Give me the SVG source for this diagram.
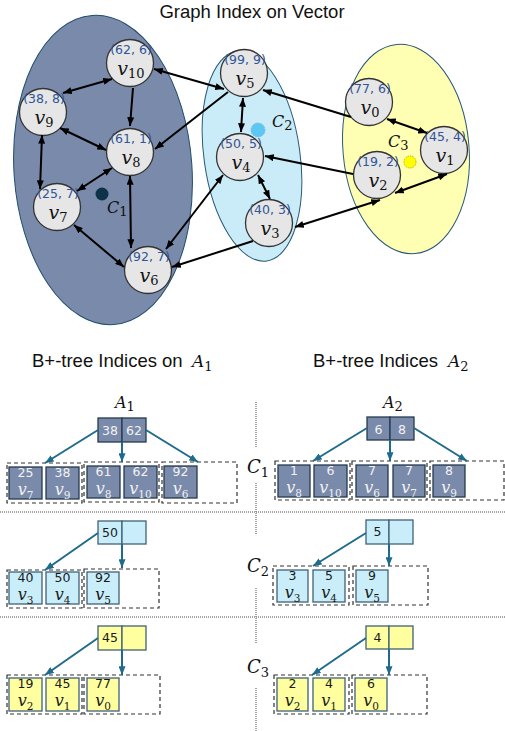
<svg xmlns="http://www.w3.org/2000/svg" width="505" height="731" viewBox="0 0 505 731">
<style>
.t{font-family:"Liberation Sans",Arial,sans-serif;fill:#111}
.co{font-family:"DejaVu Sans",Verdana,sans-serif;font-size:12.5px;fill:#2f5597;text-anchor:middle}
.m{font-family:"DejaVu Serif",serif;font-style:italic;fill:#111}
.vl{font-family:"DejaVu Serif",serif;font-style:italic;font-size:19px;text-anchor:middle;fill:#111}
.sb{font-style:normal;font-size:13px}
.node circle{fill:#e6e6e6;stroke:#333;stroke-width:1.3}
.e{stroke:#000;stroke-width:2;fill:none}
.tr{stroke:#1f6b8c;stroke-width:2;fill:none}
.grp{fill:none;stroke:#333;stroke-dasharray:4 3;stroke-width:1.2}
.div{stroke:#888;stroke-width:1.5;stroke-dasharray:1 1;fill:none}
.dk rect{fill:#7a8aab;stroke:#26394f;stroke-width:1.3}
.lb rect{fill:#c9eefa;stroke:#3f6179;stroke-width:1.3}
.yl rect{fill:#ffffa0;stroke:#3f6179;stroke-width:1.3}
.num{font-family:"DejaVu Sans",Verdana,sans-serif;font-size:12.5px;text-anchor:middle}
.lv{font-family:"DejaVu Serif",serif;font-style:italic;font-size:16px;text-anchor:middle}
.ls{font-style:normal;font-size:10.5px}
.dk text{fill:#f2f2f2}
.lb text,.yl text{fill:#1a1a1a}
</style>
<defs>
<marker id="ah" viewBox="0 0 10 8" refX="10" refY="4" markerWidth="9" markerHeight="7" markerUnits="userSpaceOnUse" orient="auto-start-reverse"><path d="M0,0 L10,4 L0,8 z" fill="#000"/></marker>
<marker id="at" viewBox="0 0 10 8" refX="10" refY="4" markerWidth="9" markerHeight="7" markerUnits="userSpaceOnUse" orient="auto"><path d="M0,0 L10,4 L0,8 z" fill="#1f6b8c"/></marker>
</defs>
<rect width="505" height="731" fill="#fff"/>
<text class="t" x="252" y="18" font-size="18.5" text-anchor="middle">Graph Index on Vector</text>

<g id="clusters">
<ellipse id="C1area" cx="103" cy="170" rx="89" ry="155" transform="rotate(-4 103 170)" fill="#7a8aab" stroke="#1f4e6e" stroke-width="1"/>
<ellipse id="C2area" cx="252" cy="156" rx="48" ry="106" transform="rotate(-8 252 156)" fill="#c9ecf8" stroke="#2a5a78" stroke-width="1"/>
<ellipse id="C3area" cx="406" cy="149" rx="63" ry="105" transform="rotate(-5 406 149)" fill="#ffffb3" stroke="#2a5a78" stroke-width="1"/>
</g>

<g id="centroids">
<circle cx="102" cy="194" r="6.5" fill="#0e3349"/>
<text class="m" x="107" y="213" font-size="16">C<tspan class="sb" font-size="11" dy="3">1</tspan></text>
<circle cx="258" cy="130" r="7" fill="#5bc7f2" stroke="#8fb4d8" stroke-width="1" stroke-dasharray="1.5 1"/>
<text class="m" x="272" y="127" font-size="16">C<tspan class="sb" font-size="11" dy="3">2</tspan></text>
<circle cx="410" cy="162" r="6" fill="#ffff00" stroke="#c8b000" stroke-width="1" stroke-dasharray="1.5 1"/>
<text class="m" x="388" y="147" font-size="16">C<tspan class="sb" font-size="11" dy="3">3</tspan></text>
</g>

<g id="v10" class="node"><circle cx="130" cy="63" r="23.5"/><text class="co" x="131" y="54">(62, 6)</text><text class="vl" x="131" y="75">v<tspan class="sb" dy="3">10</tspan></text></g>
<g id="v9" class="node"><circle cx="43" cy="112" r="23.5"/><text class="co" x="44" y="103">(38, 8)</text><text class="vl" x="44" y="124">v<tspan class="sb" dy="3">9</tspan></text></g>
<g id="v8" class="node"><circle cx="130" cy="152" r="23.5"/><text class="co" x="131" y="143">(61, 1)</text><text class="vl" x="131" y="164">v<tspan class="sb" dy="3">8</tspan></text></g>
<g id="v7" class="node"><circle cx="57" cy="207" r="23.5"/><text class="co" x="58" y="198">(25, 7)</text><text class="vl" x="58" y="219">v<tspan class="sb" dy="3">7</tspan></text></g>
<g id="v6" class="node"><circle cx="148" cy="270" r="23.5"/><text class="co" x="149" y="261">(92, 7)</text><text class="vl" x="149" y="282">v<tspan class="sb" dy="3">6</tspan></text></g>
<g id="v5" class="node"><circle cx="244" cy="73" r="23.5"/><text class="co" x="245" y="64">(99, 9)</text><text class="vl" x="245" y="85">v<tspan class="sb" dy="3">5</tspan></text></g>
<g id="v4" class="node"><circle cx="240" cy="157" r="23.5"/><text class="co" x="241" y="148">(50, 5)</text><text class="vl" x="241" y="169">v<tspan class="sb" dy="3">4</tspan></text></g>
<g id="v3" class="node"><circle cx="269" cy="223" r="23.5"/><text class="co" x="270" y="214">(40, 3)</text><text class="vl" x="270" y="235">v<tspan class="sb" dy="3">3</tspan></text></g>
<g id="v0" class="node"><circle cx="369" cy="102" r="23.5"/><text class="co" x="370" y="93">(77, 6)</text><text class="vl" x="370" y="114">v<tspan class="sb" dy="3">0</tspan></text></g>
<g id="v1" class="node"><circle cx="444" cy="150" r="23.5"/><text class="co" x="445" y="141">(45, 4)</text><text class="vl" x="445" y="162">v<tspan class="sb" dy="3">1</tspan></text></g>
<g id="v2" class="node"><circle cx="377" cy="175" r="23.5"/><text class="co" x="378" y="166">(19, 2)</text><text class="vl" x="378" y="187">v<tspan class="sb" dy="3">2</tspan></text></g>

<g id="connectors">
<line class="e" x1="63" y1="93" x2="112" y2="79" marker-start="url(#ah)" marker-end="url(#ah)"/>
<line class="e" x1="133" y1="88" x2="130" y2="126" marker-end="url(#ah)"/>
<line class="e" x1="60" y1="128" x2="106" y2="150" marker-start="url(#ah)" marker-end="url(#ah)"/>
<line class="e" x1="42" y1="135" x2="40" y2="189" marker-start="url(#ah)" marker-end="url(#ah)"/>
<line class="e" x1="112" y1="168" x2="77" y2="191" marker-start="url(#ah)" marker-end="url(#ah)"/>
<line class="e" x1="130" y1="176" x2="131" y2="248" marker-start="url(#ah)" marker-end="url(#ah)"/>
<line class="e" x1="74" y1="225" x2="124" y2="267" marker-start="url(#ah)" marker-end="url(#ah)"/>
<line class="e" x1="154" y1="69" x2="224" y2="89" marker-start="url(#ah)" marker-end="url(#ah)"/>
<line class="e" x1="228" y1="92" x2="155" y2="149" marker-end="url(#ah)"/>
<line class="e" x1="223" y1="175" x2="166" y2="249" marker-start="url(#ah)" marker-end="url(#ah)"/>
<line class="e" x1="253" y1="241" x2="172" y2="267" marker-end="url(#ah)"/>
<line class="e" x1="243" y1="98" x2="241" y2="132" marker-start="url(#ah)" marker-end="url(#ah)"/>
<line class="e" x1="258" y1="175" x2="270" y2="199" marker-start="url(#ah)" marker-end="url(#ah)"/>
<line class="e" x1="351" y1="117" x2="263" y2="90" marker-end="url(#ah)"/>
<line class="e" x1="353" y1="174" x2="265" y2="156" marker-end="url(#ah)"/>
<line class="e" x1="295" y1="227" x2="380" y2="200" marker-start="url(#ah)" marker-end="url(#ah)"/>
<line class="e" x1="387" y1="119" x2="427" y2="133" marker-start="url(#ah)" marker-end="url(#ah)"/>
<line class="e" x1="395" y1="193" x2="447" y2="174" marker-start="url(#ah)" marker-end="url(#ah)"/>
</g>

<g id="headers">
<text class="t" x="32" y="367" font-size="18.5">B+-tree Indices on</text>
<text class="m" x="192" y="367" font-size="17">A<tspan class="sb" font-size="12" dy="4">1</tspan></text>
<text class="t" x="313" y="367" font-size="18.5">B+-tree Indices</text>
<text class="m" x="448" y="367" font-size="17">A<tspan class="sb" font-size="12" dy="4">2</tspan></text>
</g>

<g id="dividers">
<line class="div" x1="0" y1="512" x2="505" y2="512"/>
<line class="div" x1="0" y1="617" x2="505" y2="617"/>
<line class="div" x1="256" y1="402" x2="256" y2="447"/>
<line class="div" x1="256" y1="483" x2="256" y2="535"/>
<line class="div" x1="256" y1="588" x2="256" y2="644"/>
<line class="div" x1="256" y1="688" x2="256" y2="731"/>
<text class="m" x="247" y="473" font-size="18">C<tspan class="sb" font-size="12" dy="4">1</tspan></text>
<text class="m" x="247" y="572" font-size="18">C<tspan class="sb" font-size="12" dy="4">2</tspan></text>
<text class="m" x="247" y="673" font-size="18">C<tspan class="sb" font-size="12" dy="4">3</tspan></text>
</g>

<g id="treeA1C1" class="dk">
<text class="m" x="115" y="408" font-size="16" style="fill:#111">A<tspan class="sb" font-size="11" dy="3">1</tspan></text>
<rect x="98" y="418" width="24" height="24"/><rect x="122" y="418" width="24" height="24"/>
<text class="num" x="110" y="435">38</text><text class="num" x="134" y="435">62</text>
<rect x="9" y="467" width="33" height="32"/><text class="num" x="25.5" y="477">25</text><text class="lv" x="25.5" y="495">v<tspan class="ls" dy="4">7</tspan></text>
<rect x="46" y="467" width="33" height="32"/><text class="num" x="62.5" y="477">38</text><text class="lv" x="62.5" y="495">v<tspan class="ls" dy="4">9</tspan></text>
<rect x="87" y="466" width="33" height="32"/><text class="num" x="103.5" y="476">61</text><text class="lv" x="103.5" y="494">v<tspan class="ls" dy="4">8</tspan></text>
<rect x="124" y="466" width="33" height="32"/><text class="num" x="140.5" y="476">62</text><text class="lv" x="140.5" y="494">v<tspan class="ls" dy="4">10</tspan></text>
<rect x="164" y="466" width="33" height="32"/><text class="num" x="180.5" y="476">92</text><text class="lv" x="180.5" y="494">v<tspan class="ls" dy="4">6</tspan></text>
</g>
<g id="treeA2C1" class="dk">
<text class="m" x="383" y="408" font-size="16" style="fill:#111">A<tspan class="sb" font-size="11" dy="3">2</tspan></text>
<rect x="367" y="417" width="23" height="23"/><rect x="390" y="417" width="24" height="23"/>
<text class="num" x="378.5" y="434">6</text><text class="num" x="402" y="434">8</text>
<rect x="278" y="465" width="32" height="32"/><text class="num" x="294" y="475">1</text><text class="lv" x="294" y="493">v<tspan class="ls" dy="4">8</tspan></text>
<rect x="314" y="465" width="33" height="32"/><text class="num" x="330.5" y="475">6</text><text class="lv" x="330.5" y="493">v<tspan class="ls" dy="4">10</tspan></text>
<rect x="356" y="465" width="32" height="32"/><text class="num" x="372" y="475">7</text><text class="lv" x="372" y="493">v<tspan class="ls" dy="4">6</tspan></text>
<rect x="393" y="465" width="32" height="32"/><text class="num" x="409" y="475">7</text><text class="lv" x="409" y="493">v<tspan class="ls" dy="4">7</tspan></text>
<rect x="433" y="465" width="32" height="32"/><text class="num" x="449" y="475">8</text><text class="lv" x="449" y="493">v<tspan class="ls" dy="4">9</tspan></text>
</g>
<g id="treeA1C2" class="lb">
<rect x="98" y="521" width="24" height="23"/><rect x="122" y="521" width="24" height="23"/>
<text class="num" x="110" y="537">50</text>
<rect x="9" y="572" width="33" height="32"/><text class="num" x="25.5" y="582">40</text><text class="lv" x="25.5" y="600">v<tspan class="ls" dy="4">3</tspan></text>
<rect x="46" y="572" width="33" height="32"/><text class="num" x="62.5" y="582">50</text><text class="lv" x="62.5" y="600">v<tspan class="ls" dy="4">4</tspan></text>
<rect x="87" y="572" width="32" height="32"/><text class="num" x="103" y="582">92</text><text class="lv" x="103" y="600">v<tspan class="ls" dy="4">5</tspan></text>
</g>
<g id="treeA2C2" class="lb">
<rect x="366" y="520" width="23" height="24"/><rect x="389" y="520" width="24" height="24"/>
<text class="num" x="377.5" y="536">5</text>
<rect x="277" y="570" width="31" height="32"/><text class="num" x="292.5" y="580">3</text><text class="lv" x="292.5" y="598">v<tspan class="ls" dy="4">3</tspan></text>
<rect x="313" y="570" width="32" height="32"/><text class="num" x="329" y="580">5</text><text class="lv" x="329" y="598">v<tspan class="ls" dy="4">4</tspan></text>
<rect x="356" y="570" width="32" height="32"/><text class="num" x="372" y="580">9</text><text class="lv" x="372" y="598">v<tspan class="ls" dy="4">5</tspan></text>
</g>
<g id="treeA1C3" class="yl">
<rect x="98" y="626" width="24" height="24"/><rect x="122" y="626" width="24" height="24"/>
<text class="num" x="110" y="642">45</text>
<rect x="9" y="678" width="33" height="33"/><text class="num" x="25.5" y="688">19</text><text class="lv" x="25.5" y="706">v<tspan class="ls" dy="4">2</tspan></text>
<rect x="46" y="678" width="33" height="33"/><text class="num" x="62.5" y="688">45</text><text class="lv" x="62.5" y="706">v<tspan class="ls" dy="4">1</tspan></text>
<rect x="87" y="678" width="32" height="33"/><text class="num" x="103" y="688">77</text><text class="lv" x="103" y="706">v<tspan class="ls" dy="4">0</tspan></text>
</g>
<g id="treeA2C3" class="yl">
<rect x="366" y="626" width="23" height="23"/><rect x="389" y="626" width="24" height="23"/>
<text class="num" x="377.5" y="642">4</text>
<rect x="277" y="678" width="31" height="33"/><text class="num" x="292.5" y="688">2</text><text class="lv" x="292.5" y="706">v<tspan class="ls" dy="4">2</tspan></text>
<rect x="313" y="678" width="32" height="33"/><text class="num" x="329" y="688">4</text><text class="lv" x="329" y="706">v<tspan class="ls" dy="4">1</tspan></text>
<rect x="355" y="678" width="32" height="33"/><text class="num" x="371" y="688">6</text><text class="lv" x="371" y="706">v<tspan class="ls" dy="4">0</tspan></text>
</g>

<g id="leafgroups">
<rect class="grp" x="7" y="463" width="75" height="40"/><rect class="grp" x="84" y="462" width="75" height="40"/><rect class="grp" x="162" y="462" width="75" height="41"/>
<rect class="grp" x="275" y="461" width="75" height="39"/><rect class="grp" x="352" y="461" width="75" height="39"/><rect class="grp" x="430" y="461" width="74" height="39"/>
<rect class="grp" x="7" y="570" width="75" height="38"/><rect class="grp" x="84" y="569" width="75" height="39"/>
<rect class="grp" x="273" y="566" width="76" height="39"/><rect class="grp" x="353" y="566" width="75" height="39"/>
<rect class="grp" x="7" y="675" width="75" height="39"/><rect class="grp" x="84" y="675" width="76" height="39"/>
<rect class="grp" x="274" y="675" width="75" height="39"/><rect class="grp" x="352" y="675" width="75" height="39"/>
</g>

<g id="tree-connectors">
<line class="tr" x1="98" y1="430" x2="45" y2="463" marker-end="url(#at)"/>
<line class="tr" x1="122" y1="442" x2="122" y2="462" marker-end="url(#at)"/>
<line class="tr" x1="146" y1="430" x2="198" y2="462" marker-end="url(#at)"/>
<line class="tr" x1="367" y1="428" x2="313" y2="461" marker-end="url(#at)"/>
<line class="tr" x1="390" y1="440" x2="390" y2="461" marker-end="url(#at)"/>
<line class="tr" x1="414" y1="428" x2="467" y2="461" marker-end="url(#at)"/>
<line class="tr" x1="98" y1="533" x2="45" y2="570" marker-end="url(#at)"/>
<line class="tr" x1="122" y1="544" x2="122" y2="568" marker-end="url(#at)"/>
<line class="tr" x1="366" y1="533" x2="313" y2="566" marker-end="url(#at)"/>
<line class="tr" x1="389" y1="544" x2="389" y2="566" marker-end="url(#at)"/>
<line class="tr" x1="98" y1="638" x2="45" y2="675" marker-end="url(#at)"/>
<line class="tr" x1="122" y1="650" x2="122" y2="675" marker-end="url(#at)"/>
<line class="tr" x1="366" y1="638" x2="312" y2="675" marker-end="url(#at)"/>
<line class="tr" x1="389" y1="649" x2="389" y2="675" marker-end="url(#at)"/>
</g>
</svg>
